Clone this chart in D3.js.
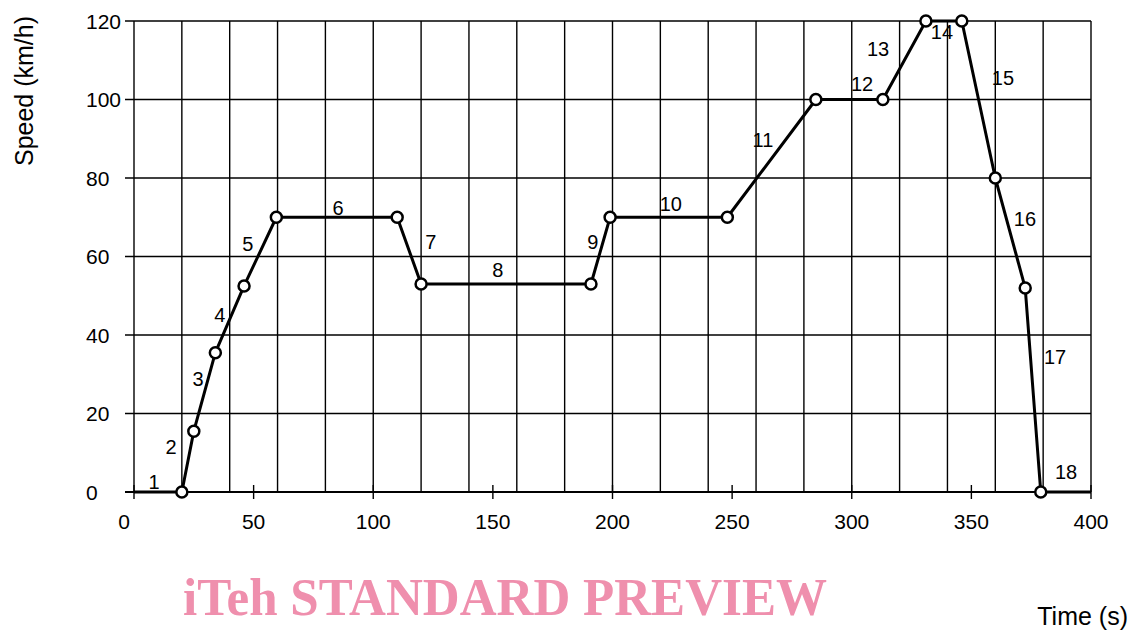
<!DOCTYPE html>
<html>
<head>
<meta charset="utf-8">
<script src="https://cdn.jsdelivr.net/npm/d3@7"></script>
<style>
  html, body { margin: 0; padding: 0; background: #fff; }
  svg { display: block; }
  text { font-family: "Liberation Sans", Arial, sans-serif; fill: #000; }
</style>
</head>
<body>
<svg id="chart" width="1131" height="634"></svg>
<script>
// ---- data ----
const times  = [0, 20, 25, 34, 46, 59.5, 110, 120, 191, 199, 248, 285, 313, 331, 346, 360, 372.5, 379, 400];
const speeds = [0, 0, 15.5, 35.5, 52.5, 70, 70, 53, 53, 70, 70, 100, 100, 120, 120, 80, 52, 0, 0];
const markerIdx = [1, 2, 3, 4, 5, 6, 7, 8, 9, 10, 11, 12, 13, 14, 15, 16, 17];
const segLabels = ["1","2","3","4","5","6","7","8","9","10","11","12","13","14","15","16","17","18"];
const segLabelT = [8.4, 15.5, 26.8, 35.9, 47.6, 85.3, 124.1, 152.1, 191.8, 224.4, 262.9, 304.3, 311.0, 337.7, 363.2, 372.4, 385.0, 389.6];
const segLabelV = [2.8, 11.7, 28.8, 45.1, 63.2, 72.6, 63.7, 56.6, 63.7, 73.4, 89.9, 104.2, 113.1, 117.2, 105.5, 69.8, 34.4, 5.1];
const xTicks = [0, 50, 100, 150, 200, 250, 300, 350, 400];
const yTicks = [0, 20, 40, 60, 80, 100, 120];
const xGrid = d3.range(0, 401, 20);
const xTitle = "Time (s)";
const yTitle = "Speed (km/h)";
const watermark = "iTeh STANDARD PREVIEW";

// ---- scales ----
const svg = d3.select("#chart");
const x = d3.scaleLinear().domain([0, 400]).range([134, 1091]);
const y = d3.scaleLinear().domain([0, 120]).range([492, 21]);

// grid
const g = svg.append("g");
g.selectAll("line.vg").data(xGrid).join("line")
  .attr("x1", d => x(d)).attr("x2", d => x(d))
  .attr("y1", y(120)).attr("y2", y(0))
  .attr("stroke", "#000").attr("stroke-width", 1.4);
g.selectAll("line.hg").data(yTicks).join("line")
  .attr("x1", x(0) - 9).attr("x2", x(400))
  .attr("y1", d => y(d)).attr("y2", d => y(d))
  .attr("stroke", "#000").attr("stroke-width", d => d === 0 ? 2 : 1.4);

// x axis ticks
g.selectAll("line.xt").data(xTicks).join("line")
  .attr("x1", d => x(d)).attr("x2", d => x(d))
  .attr("y1", y(0) - 7).attr("y2", y(0) + 7)
  .attr("stroke", "#000").attr("stroke-width", 1.4);

// tick labels
g.selectAll("text.xl").data(xTicks).join("text")
  .attr("x", d => x(d) + (d === 0 ? -10 : 0))
  .attr("y", 529)
  .attr("text-anchor", "middle")
  .attr("font-size", 21)
  .text(d => d);
g.selectAll("text.yl").data(yTicks).join("text")
  .attr("x", 86)
  .attr("y", d => y(d) + 7.5)
  .attr("text-anchor", "start")
  .attr("font-size", 21)
  .text(d => d);

// axis titles
svg.append("text")
  .attr("transform", "translate(33,91) rotate(-90)")
  .attr("text-anchor", "middle")
  .attr("font-size", 25)
  .text(yTitle);
svg.append("text")
  .attr("x", 1128).attr("y", 625)
  .attr("text-anchor", "end")
  .attr("font-size", 25)
  .text(xTitle);

// data line
const pts = times.map((t, i) => [t, speeds[i]]);
svg.append("path")
  .datum(pts)
  .attr("fill", "none")
  .attr("stroke", "#000")
  .attr("stroke-width", 3)
  .attr("stroke-linejoin", "round")
  .attr("d", d3.line().x(d => x(d[0])).y(d => y(d[1])));

// markers
svg.selectAll("circle.m").data(markerIdx.map(i => pts[i])).join("circle")
  .attr("cx", d => x(d[0])).attr("cy", d => y(d[1]))
  .attr("r", 5.5)
  .attr("fill", "#fff")
  .attr("stroke", "#000")
  .attr("stroke-width", 2.5);

// segment labels
svg.selectAll("text.seg").data(segLabels).join("text")
  .attr("x", (d, i) => x(segLabelT[i]))
  .attr("y", (d, i) => y(segLabelV[i]) + 7.5)
  .attr("text-anchor", "middle")
  .attr("font-size", 20)
  .text(d => d);

// watermark
svg.append("text")
  .attr("x", 183).attr("y", 615)
  .style("font-family", "'Liberation Serif', 'Times New Roman', serif")
  .style("font-weight", "bold")
  .style("font-size", "52px")
  .attr("textLength", 644)
  .attr("lengthAdjust", "spacingAndGlyphs")
  .style("fill", "#ef8fad")
  .text(watermark);
</script>
</body>
</html>
